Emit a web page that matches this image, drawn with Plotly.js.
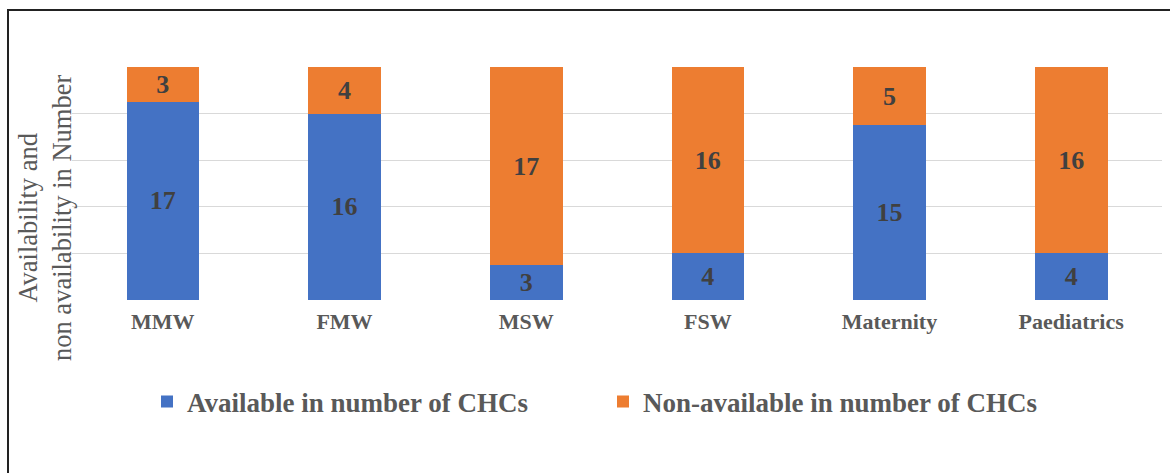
<!DOCTYPE html>
<html>
<head>
<meta charset="utf-8">
<script src="https://cdn.plot.ly/plotly-3.0.1.min.js"></script>
<style>
  html, body { margin: 0; padding: 0; background: #ffffff; }
  #wrap { position: relative; width: 1170px; height: 473px; overflow: hidden; }
  #chart { width: 1170px; height: 473px; }
  #frame { position: absolute; left: 7px; top: 9px; width: 1200px; height: 500px;
           border-left: 2px solid #222; border-top: 2px solid #222; pointer-events: none; }
</style>
</head>
<body>
<div id="wrap">
  <div id="chart"></div>
  <div id="frame"></div>
</div>
<script>
const categories = ["MMW", "FMW", "MSW", "FSW", "Maternity", "Paediatrics"];
const availableValues = [17, 16, 3, 4, 15, 4];
const nonAvailableValues = [3, 4, 17, 16, 5, 16];
const seriesNames = ["Available in number of CHCs", "Non-available in number of CHCs"];
const yTitleText = "Availability and<br>non availability in Number";

const FONT = "Liberation Serif, Times New Roman, serif";
const labelFont = { family: FONT, size: 26, color: "#404040", weight: "bold" };

function barTrace(name, values, color) {
  return {
    type: "bar",
    name: name,
    x: categories,
    y: values,
    text: values.map(String),
    texttemplate: "<b>%{text}</b>",
    textposition: "inside",
    insidetextanchor: "middle",
    textangle: 0,
    constraintext: "none",
    insidetextfont: labelFont,
    marker: { color: color, line: { width: 0 } },
    hoverinfo: "x+y+name"
  };
}

const data = [
  barTrace(seriesNames[0], availableValues, "#4472C4"),
  barTrace(seriesNames[1], nonAvailableValues, "#ED7D31")
];

const layout = {
  width: 1170,
  height: 473,
  margin: { l: 72, r: 8, t: 67, b: 173 },
  paper_bgcolor: "#ffffff",
  plot_bgcolor: "#ffffff",
  barmode: "stack",
  bargap: 0.6,
  showlegend: true,
  font: { family: FONT, color: "#595959" },
  xaxis: {
    type: "category",
    showgrid: false,
    showline: false,
    zeroline: false,
    ticks: "",
    tickfont: { family: FONT, size: 22, color: "#595959", weight: "bold" },
    ticklabelstandoff: 6
  },
  yaxis: {
    range: [0, 20],
    dtick: 4,
    tick0: 0,
    showgrid: true,
    gridcolor: "#d9d9d9",
    gridwidth: 1.3,
    zeroline: false,
    showline: false,
    showticklabels: false,
    ticks: ""
  },
  legend: {
    orientation: "h",
    traceorder: "normal",
    x: (147 - 72) / 1090,
    xanchor: "left",
    y: (300 - 402) / 233,
    yanchor: "middle",
    entrywidth: 411,
    entrywidthmode: "pixels",
    itemwidth: 30,
    font: { family: FONT, size: 27, color: "#595959", weight: "bold" },
    bgcolor: "rgba(0,0,0,0)"
  },
  annotations: [{
    text: yTitleText,
    textangle: -90,
    xref: "paper",
    yref: "paper",
    x: (45 - 72) / 1090,
    y: (300 - 218) / 233,
    xanchor: "center",
    yanchor: "middle",
    showarrow: false,
    font: { family: FONT, size: 26.5, color: "#595959" }
  }]
};

Plotly.newPlot("chart", data, layout, { displayModeBar: false, staticPlot: true });
</script>
</body>
</html>
